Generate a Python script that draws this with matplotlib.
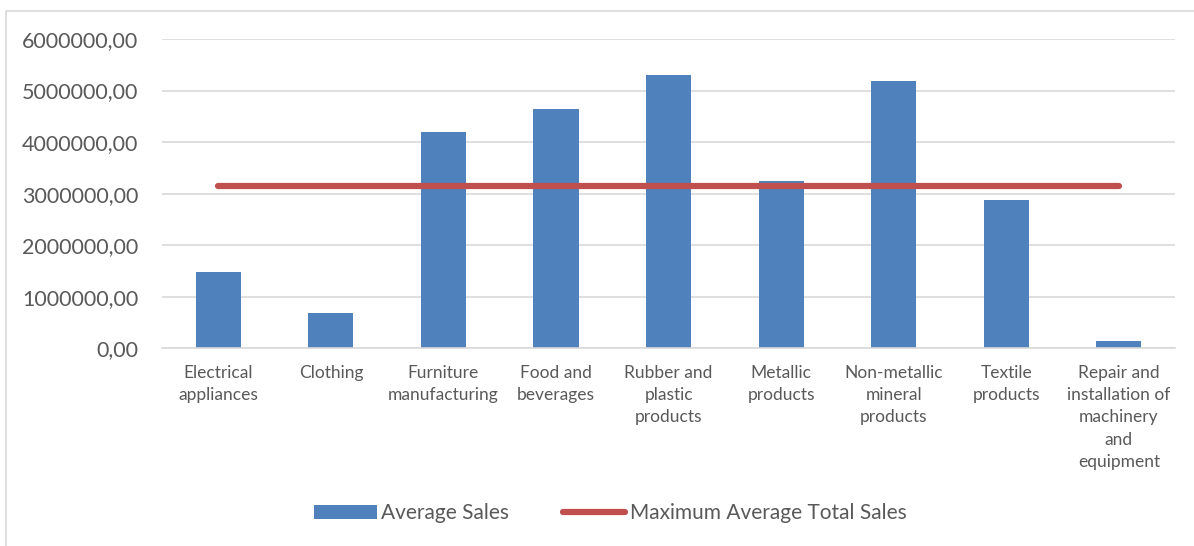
import matplotlib.pyplot as plt
import matplotlib.ticker as mticker
from matplotlib.patches import Rectangle

plt.rcParams['font.family'] = ['Lato', 'DejaVu Sans']

categories = [
    "Electrical\nappliances", "Clothing", "Furniture\nmanufacturing",
    "Food and\nbeverages", "Rubber and\nplastic\nproducts", "Metallic\nproducts",
    "Non-metallic\nmineral\nproducts", "Textile\nproducts",
    "Repair and\ninstallation of\nmachinery\nand\nequipment",
]
avg_sales = [1490000, 680000, 4190000, 4650000, 5310000, 3240000, 5180000, 2880000, 140000]
max_avg_total = [3155000] * len(categories)

text_col = "#595959"

fig = plt.figure(figsize=(11.94, 5.46), dpi=100)
ax = fig.add_axes([0.1357, 0.362, 0.8485, 0.5666])

x = range(len(categories))
bars = ax.bar(x, avg_sales, width=0.4, color="#4F81BD", label="Average Sales", zorder=2)
line, = ax.plot(x, max_avg_total, color="#C0504D", lw=4.5, solid_capstyle="round",
                label="Maximum Average Total Sales", zorder=3)

ax.set_xlim(-0.5, len(categories) - 0.5)
ax.set_ylim(0, 6000000)
ax.yaxis.set_major_locator(mticker.MultipleLocator(1000000))
ax.yaxis.set_major_formatter(mticker.FuncFormatter(lambda v, p: f"{v:.2f}".replace(".", ",")))
ax.grid(axis="y", color="#D9D9D9", lw=1.2, zorder=0)

ax.set_xticks(list(x))
ax.set_xticklabels(categories, fontsize=12.5, color=text_col, linespacing=1.48)
ax.tick_params(axis="x", length=0, pad=12)
ax.tick_params(axis="y", length=0, pad=17, labelsize=15.5, labelcolor=text_col)

for s in ["top", "right", "left"]:
    ax.spines[s].set_visible(False)
ax.spines["bottom"].set_color("#D9D9D9")
ax.spines["bottom"].set_linewidth(1.2)

ax.legend([bars, line], ["Average Sales", "Maximum Average Total Sales"],
          loc="center", bbox_to_anchor=(0.511, 0.06), bbox_transform=fig.transFigure,
          ncol=2, frameon=False, fontsize=15, labelcolor=text_col,
          handlelength=3.0, handletextpad=0.2, columnspacing=2.6)

# chart border
fig.patches.append(Rectangle((0.005, -0.02), 1.1, 1.0, transform=fig.transFigure,
                             fill=False, edgecolor="#D9D9D9", lw=1.2))

fig.savefig("out.png", dpi=100)
